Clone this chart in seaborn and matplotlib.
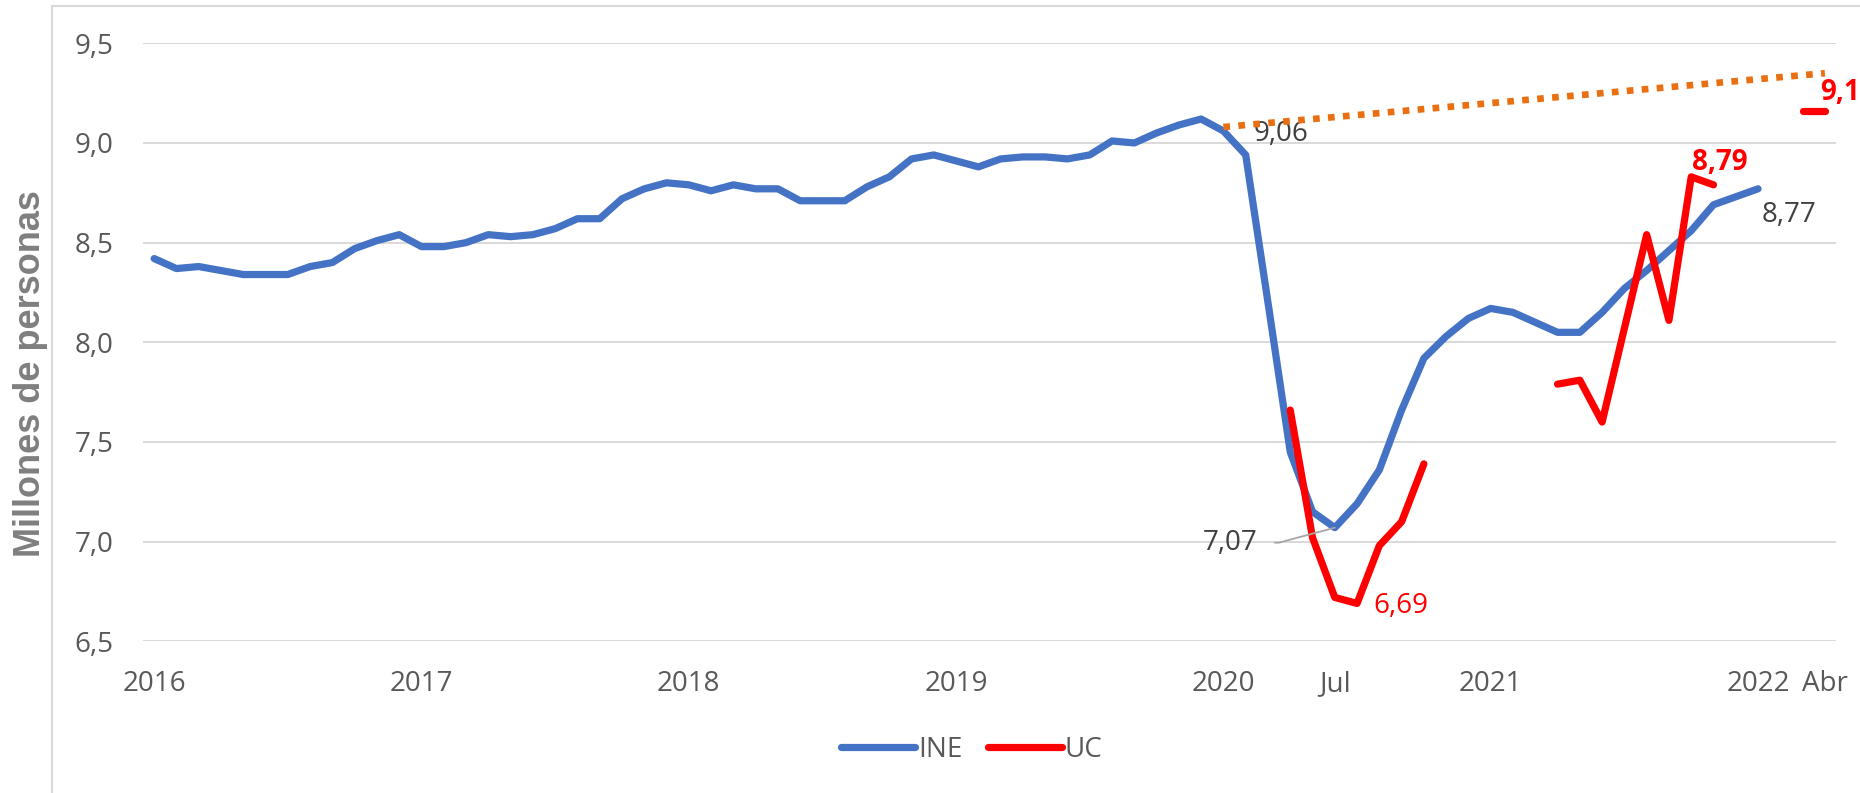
import numpy as np
import pandas as pd
import matplotlib
matplotlib.use('Agg')
import matplotlib.pyplot as plt
import seaborn as sns
from matplotlib.lines import Line2D

# Ocupados (millones de personas), un valor por mes desde ene-2016 (mes 0) hasta abr-2022 (mes 75)
ine = [8.42, 8.37, 8.38, 8.36, 8.34, 8.34, 8.34, 8.38, 8.40, 8.47, 8.51, 8.54,
       8.48, 8.48, 8.50, 8.54, 8.53, 8.54, 8.57, 8.62, 8.62, 8.72, 8.77, 8.80,
       8.79, 8.76, 8.79, 8.77, 8.77, 8.71, 8.71, 8.71, 8.78, 8.83, 8.92, 8.94,
       8.91, 8.88, 8.92, 8.93, 8.93, 8.92, 8.94, 9.01, 9.00, 9.05, 9.09, 9.12,
       9.06, 8.94, 8.20, 7.45, 7.15, 7.07, 7.19, 7.36, 7.66, 7.92, 8.03, 8.12,
       8.17, 8.15, 8.10, 8.05, 8.05, 8.15, 8.27, 8.36, 8.46, 8.56, 8.69, 8.73,
       8.77]

# Encuesta UC: tres tramos (mes de inicio, valores)
uc_2020_inicio = 51
uc_2020 = [7.66, 7.02, 6.72, 6.69, 6.98, 7.10, 7.39]
uc_2021_inicio = 63
uc_2021 = [7.79, 7.81, 7.60, 8.07, 8.54, 8.11, 8.83, 8.79]
uc_2022_inicio = 74
uc_2022 = [9.16, 9.16]

# Tendencia prepandemia (ene-2020 -> abr-2022)
tendencia_mes = [48, 75]
tendencia_valor = [9.08, 9.35]

ticks_mes = [0, 12, 24, 36, 48, 53, 60, 72, 75]
ticks_texto = ['2016', '2017', '2018', '2019', '2020', 'Jul', '2021', '2022', 'Abr']

df_ine = pd.DataFrame({'mes': range(len(ine)), 'valor': ine})
tramos = []
for n, (ini, vals) in enumerate([(uc_2020_inicio, uc_2020), (uc_2021_inicio, uc_2021),
                                 (uc_2022_inicio, uc_2022)]):
    tramos.append(pd.DataFrame({'mes': range(ini, ini + len(vals)), 'valor': vals, 'tramo': n}))
df_uc = pd.concat(tramos, ignore_index=True)

sns.set_style('white')
plt.rcParams['font.family'] = ['Open Sans', 'DejaVu Sans']
plt.rcParams['lines.solid_capstyle'] = 'round'
plt.rcParams['lines.solid_joinstyle'] = 'round'

azul = '#4472C4'
rojo = '#FF0000'
naranja = '#E97012'
gris = '#404040'
lw_serie = 5.2

fig = plt.figure(figsize=(18.6, 7.93), dpi=100)
ax = fig.add_axes([0.0769, 0.1913, 0.9102, 0.7541])

sns.lineplot(data=df_ine, x='mes', y='valor', ax=ax, color=azul, linewidth=lw_serie, zorder=2)
sns.lineplot(data=df_uc, x='mes', y='valor', units='tramo', estimator=None, ax=ax,
             color=rojo, linewidth=lw_serie, zorder=3)
ax.plot(tendencia_mes, tendencia_valor, color=naranja, linewidth=4.8,
        linestyle=(0, (1, 1.25)), dash_capstyle='butt', zorder=4)

ax.set_xlim(-0.5, 75.5)
ax.set_ylim(6.5, 9.5)
yt = np.arange(6.5, 9.51, 0.5)
ax.set_yticks(yt)
ax.set_yticklabels([f'{v:.1f}'.replace('.', ',') for v in yt])
ax.set_xticks(ticks_mes)
ax.set_xticklabels(ticks_texto)
ax.tick_params(axis='both', length=0, labelsize=20, labelcolor='#595959')
ax.tick_params(axis='y', pad=21)
ax.tick_params(axis='x', pad=21)
ax.set_xlabel('')
ax.set_ylabel('')
ax.yaxis.grid(True, color='#D9D9D9', linewidth=1.4)
ax.xaxis.grid(False)
ax.set_axisbelow(True)
sns.despine(ax=ax, left=True, bottom=True)

# etiquetas de datos
ax.annotate('9,06', xy=(48, ine[48]), xytext=(30, -3), textcoords='offset pixels',
            ha='left', va='center', fontsize=20, color=gris)
ax.annotate('7,07', xy=(53, ine[53]), xytext=(-77, -15), textcoords='offset pixels',
            ha='right', va='center', fontsize=20, color=gris,
            arrowprops=dict(arrowstyle='-', color='#A6A6A6', lw=1.3, relpos=(1, 0.5),
                            shrinkA=10, shrinkB=0,
                            connectionstyle='angle,angleA=0,angleB=15,rad=0'))
ax.annotate('8,77', xy=(72, ine[72]), xytext=(4, -26), textcoords='offset pixels',
            ha='left', va='center', fontsize=20, color=gris)
ax.annotate('6,69', xy=(54, uc_2020[3]), xytext=(16, -3), textcoords='offset pixels',
            ha='left', va='center', fontsize=20, color=rojo)
ax.annotate('8,79', xy=(70, uc_2021[-1]), xytext=(6, 22), textcoords='offset pixels',
            ha='center', va='center', fontsize=20, color=rojo, fontweight='bold')
ax.annotate('9,16', xy=(75, uc_2022[-1]), xytext=(-5, 19), textcoords='offset pixels',
            ha='left', va='center', fontsize=20, color=rojo, fontweight='bold')

fig.text(31 / 1860, 1 - 374 / 793, 'Millones de personas', rotation=90, ha='center',
         va='center', fontsize=26, fontweight='bold', color='#7F7F7F',
         family=['Liberation Sans', 'DejaVu Sans'])

handles = [Line2D([], [], color=azul, lw=lw_serie), Line2D([], [], color=rojo, lw=lw_serie)]
fig.legend(handles, ['INE', 'UC'], loc='center', bbox_to_anchor=(972 / 1860, 1 - 750 / 793),
           ncol=2, frameon=False, fontsize=20, handlelength=2.66, handletextpad=0.12,
           columnspacing=0.9, labelcolor='#595959')

# borde del área del gráfico (recortado a la derecha y abajo)
bx = 52 / 1860
by = 1 - 5.7 / 793
fig.add_artist(Line2D([bx, bx], [0, by], transform=fig.transFigure, color='#D9D9D9', lw=1.5))
fig.add_artist(Line2D([bx, 1], [by, by], transform=fig.transFigure, color='#D9D9D9', lw=1.5))

fig.savefig('out.png', dpi=100)
